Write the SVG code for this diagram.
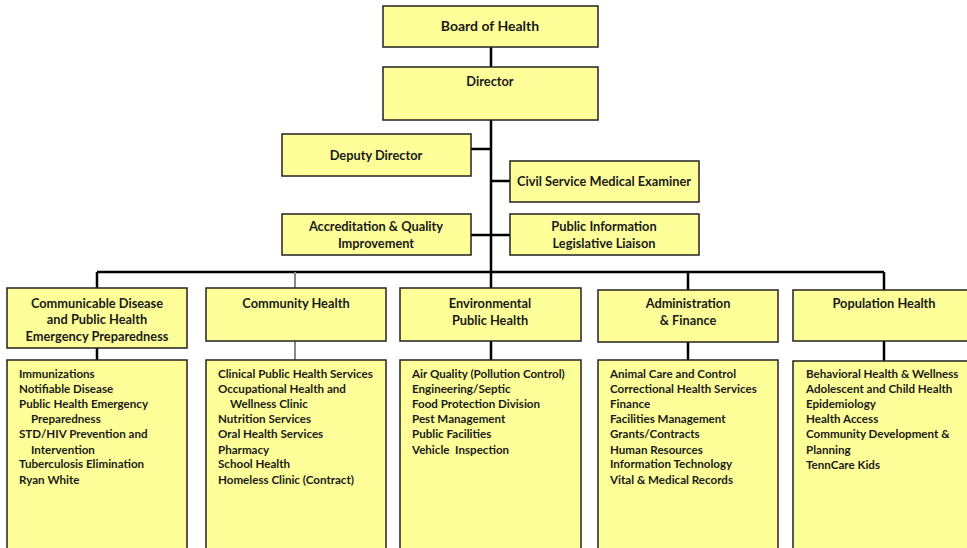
<svg xmlns="http://www.w3.org/2000/svg" width="967" height="548" viewBox="0 0 967 548">
<style>
.box{fill:#FFFF99;stroke:#222;stroke-width:1.5}
.t{font-family:Lato,"Liberation Sans",sans-serif;font-weight:bold;font-size:11.6px;fill:#1a1a1a;white-space:pre}
.h{text-anchor:middle;font-size:12.8px}
.big{font-size:14px}
.c{stroke:#000;stroke-width:2.5;fill:none}
.g{stroke:#888;stroke-width:2;fill:none}
</style>
<rect width="967" height="548" fill="#fff"/>
<g id="connectors">
<path class="c" d="M491 47V67M491 120V272M471 149H491M491 181H510M471 235H510M97 272H884M97 272V288M491 272V288M688 272V290M884 272V290M97 348V360M491 341V360M688 342V360M884 341V361"/>
<path class="g" d="M295 272V288M295 341V360"/>
</g>
<g id="board"><rect class="box" x="383" y="6" width="215" height="41"/><text class="t h big" x="490" y="31">Board of Health</text></g>
<g id="director"><rect class="box" x="383" y="67" width="215" height="53"/><text class="t h" x="490" y="86">Director</text></g>
<g id="deputy"><rect class="box" x="282" y="134" width="189" height="42"/><text class="t h" x="376" y="160">Deputy Director</text></g>
<g id="civil"><rect class="box" x="510" y="161" width="189" height="41"/><text class="t h" x="604" y="186">Civil Service Medical Examiner</text></g>
<g id="accred"><rect class="box" x="282" y="214" width="189" height="41"/><text class="t h" x="376" y="231">Accreditation &amp; Quality</text><text class="t h" x="376" y="248">Improvement</text></g>
<g id="pubinfo"><rect class="box" x="510" y="214" width="189" height="41"/><text class="t h" x="604" y="231">Public Information</text><text class="t h" x="604" y="248">Legislative Liaison</text></g>
<g id="commdis"><rect class="box" x="7" y="288" width="180" height="60"/><text class="t h" x="97" y="308">Communicable Disease</text><text class="t h" x="97" y="324">and Public Health</text><text class="t h" x="97" y="341">Emergency Preparedness</text></g>
<g id="commhealth"><rect class="box" x="206" y="288" width="180" height="53"/><text class="t h" x="296" y="308">Community Health</text></g>
<g id="env"><rect class="box" x="400" y="288" width="181" height="53"/><text class="t h" x="490" y="308">Environmental</text><text class="t h" x="490" y="325">Public Health</text></g>
<g id="admin"><rect class="box" x="598" y="290" width="180" height="52"/><text class="t h" x="688" y="308">Administration</text><text class="t h" x="688" y="325">&amp; Finance</text></g>
<g id="pop"><rect class="box" x="793" y="290" width="182" height="51"/><text class="t h" x="884" y="308">Population Health</text></g>
<g id="commdis-list"><rect class="box" x="7" y="360" width="180" height="195"/>
<text class="t" x="19" y="378">Immunizations</text>
<text class="t" x="19" y="393">Notifiable Disease</text>
<text class="t" x="19" y="408">Public Health Emergency</text>
<text class="t" x="31" y="423">Preparedness</text>
<text class="t" x="19" y="438">STD/HIV Prevention and</text>
<text class="t" x="31" y="454">Intervention</text>
<text class="t" x="19" y="468">Tuberculosis Elimination</text>
<text class="t" x="19" y="484">Ryan White</text></g>
<g id="commhealth-list"><rect class="box" x="206" y="360" width="180" height="195"/>
<text class="t" x="218" y="378">Clinical Public Health Services</text>
<text class="t" x="218" y="393">Occupational Health and</text>
<text class="t" x="230" y="408">Wellness Clinic</text>
<text class="t" x="218" y="423">Nutrition Services</text>
<text class="t" x="218" y="438">Oral Health Services</text>
<text class="t" x="218" y="454">Pharmacy</text>
<text class="t" x="218" y="468">School Health</text>
<text class="t" x="218" y="484">Homeless Clinic (Contract)</text></g>
<g id="env-list"><rect class="box" x="400" y="360" width="181" height="195"/>
<text class="t" x="412" y="378">Air Quality (Pollution Control)</text>
<text class="t" x="412" y="393">Engineering/Septic</text>
<text class="t" x="412" y="408">Food Protection Division</text>
<text class="t" x="412" y="423">Pest Management</text>
<text class="t" x="412" y="438">Public Facilities</text>
<text class="t" x="412" y="454">Vehicle&#160; Inspection</text></g>
<g id="admin-list"><rect class="box" x="598" y="360" width="180" height="195"/>
<text class="t" x="610" y="378">Animal Care and Control</text>
<text class="t" x="610" y="393">Correctional Health Services</text>
<text class="t" x="610" y="408">Finance</text>
<text class="t" x="610" y="423">Facilities Management</text>
<text class="t" x="610" y="438">Grants/Contracts</text>
<text class="t" x="610" y="454">Human Resources</text>
<text class="t" x="610" y="468">Information Technology</text>
<text class="t" x="610" y="484">Vital &amp; Medical Records</text></g>
<g id="pop-list"><rect class="box" x="793" y="361" width="182" height="195"/>
<text class="t" x="806" y="378">Behavioral Health &amp; Wellness</text>
<text class="t" x="806" y="393">Adolescent and Child Health</text>
<text class="t" x="806" y="408">Epidemiology</text>
<text class="t" x="806" y="423">Health Access</text>
<text class="t" x="806" y="438">Community Development &amp;</text>
<text class="t" x="806" y="454">Planning</text>
<text class="t" x="806" y="469">TennCare Kids</text></g>
</svg>
